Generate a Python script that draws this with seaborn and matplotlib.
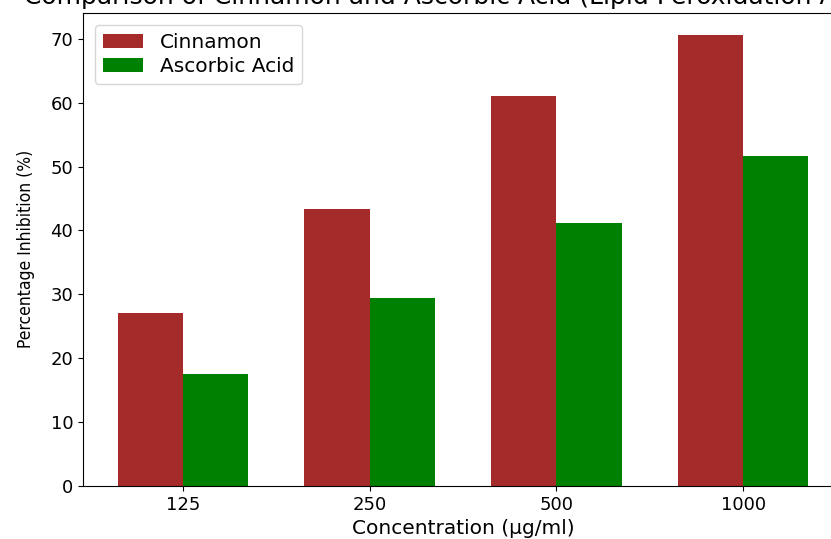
import pandas as pd
import seaborn as sns
import matplotlib.pyplot as plt

# Values
concentrations = ["125", "250", "500", "1000"]
cinnamon = [27.0, 43.4, 61.1, 70.6]
ascorbic_acid = [17.6, 29.4, 41.2, 51.6]

df = pd.DataFrame({
    "concentration": concentrations * 2,
    "inhibition": cinnamon + ascorbic_acid,
    "sample": ["Cinnamon"] * 4 + ["Ascorbic Acid"] * 4,
})

plt.rcParams['font.family'] = ['DejaVu Sans']

fig = plt.figure(figsize=(8.31, 5.39), dpi=100)
# axes run a little past the right and top edge, like the cropped reference
ax = fig.add_axes([0.0999, 0.0983, 0.9145, 0.8785])

sns.barplot(x='concentration', y='inhibition', hue='sample', data=df,
            palette={"Cinnamon": "#A52A2A", "Ascorbic Acid": "#008000"},
            width=0.7, saturation=1, errorbar=None, ax=ax)

ax.set_xlim(-0.535, 3.535)
ax.set_ylim(0, 74.1)
ax.set_yticks(range(0, 71, 10))

# title is mostly above the top edge in the reference crop
ax.set_title('Comparison of Cinnamon and Ascorbic Acid (Lipid Peroxidation Assay)',
             fontsize=18, pad=6)
ax.set_xlabel('Concentration (µg/ml)', fontsize=14.5)
ax.set_ylabel('Percentage Inhibition (%)', fontsize=12.5, fontstretch='condensed',
              labelpad=11)
ax.tick_params(axis='both', labelsize=13)

ax.legend(loc='upper left', fontsize=14.5, title=None, labelspacing=0.25,
          borderaxespad=0.6)

plt.savefig("out.png", dpi=100)
